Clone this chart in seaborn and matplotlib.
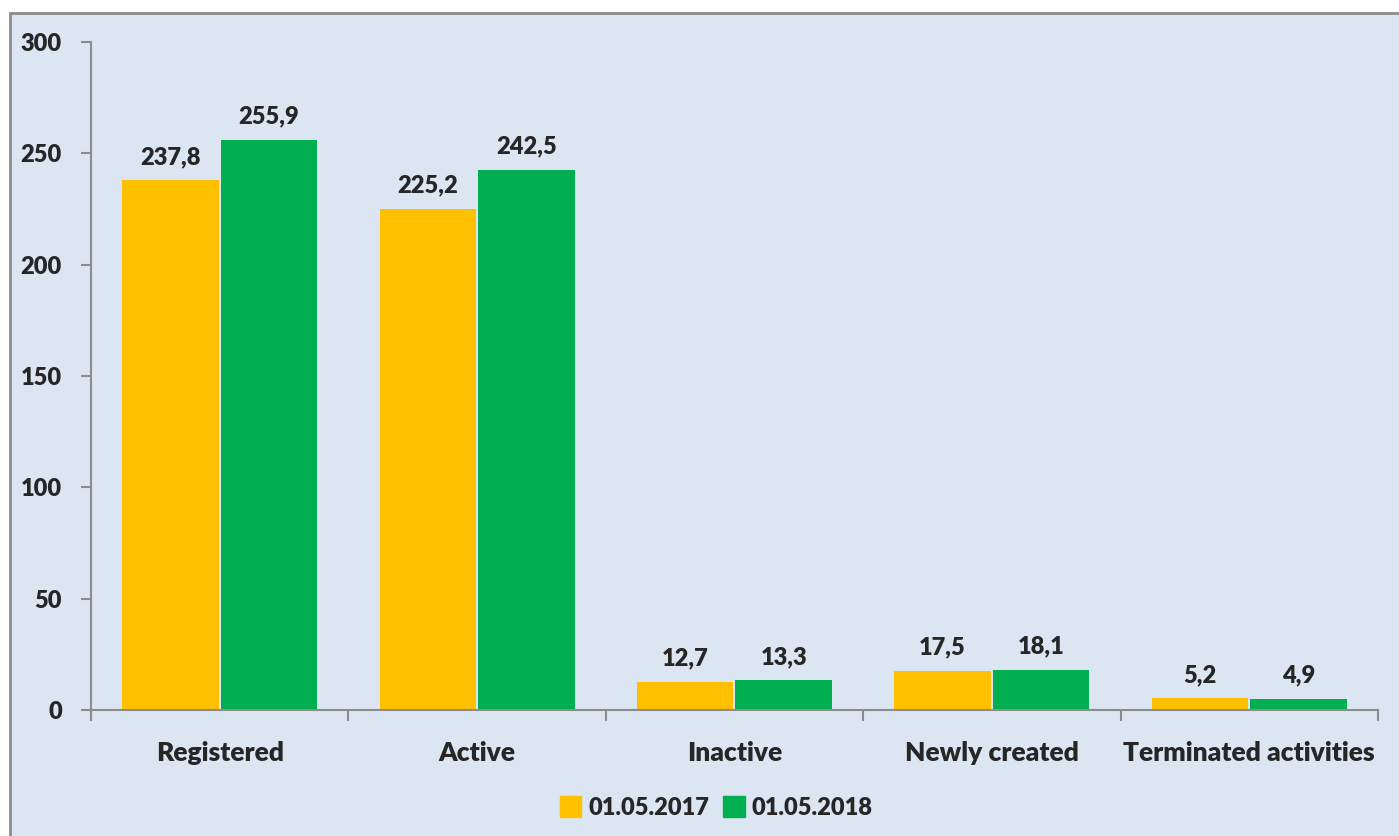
import pandas as pd
import seaborn as sns
import matplotlib.pyplot as plt
from matplotlib.patches import Rectangle

# Data
categories = ['Registered', 'Active', 'Inactive', 'Newly created', 'Terminated activities']
values_2017 = [237.8, 225.2, 12.7, 17.5, 5.2]
values_2018 = [255.9, 242.5, 13.3, 18.1, 4.9]
series = ['01.05.2017', '01.05.2018']

df = pd.DataFrame({
    'category': categories * 2,
    'value': values_2017 + values_2018,
    'date': [series[0]] * len(categories) + [series[1]] * len(categories),
})

bg = '#DCE6F2'
fw = 'heavy'
sns.set_style('white')
plt.rcParams['font.family'] = ['Lato', 'DejaVu Sans']
plt.rcParams['font.weight'] = fw

fig = plt.figure(figsize=(13.99, 8.36), dpi=100, facecolor='white')
# outer chart area with grey border (drawn behind the axes)
fig.add_artist(Rectangle((10 / 1399, -0.01), 1.0, 1 - 13 / 836 + 0.01,
                         transform=fig.transFigure, facecolor=bg,
                         edgecolor='#8c8c8c', linewidth=2, zorder=-5))

ax = fig.add_axes([0.065, 0.1507, 0.92, 0.7991])
ax.set_facecolor('none')

sns.barplot(data=df, x='category', y='value', hue='date',
            palette=['#FFC000', '#00B050'], width=0.765, gap=0.02, saturation=1,
            linewidth=0, ax=ax, legend=False)

for cont in ax.containers:
    labels = [f'{v:.1f}'.replace('.', ',') for v in cont.datavalues]
    ax.bar_label(cont, labels=labels, padding=9, fontsize=17, fontweight=fw)

ax.set_ylim(0, 300)
ax.set_xlim(-0.5, 4.5)
ax.set_yticks([0, 50, 100, 150, 200, 250, 300])
ax.set_xlabel('')
ax.set_ylabel('')

for s in ['top', 'right']:
    ax.spines[s].set_visible(False)
for s in ['left', 'bottom']:
    ax.spines[s].set_color('#8c8c8c')
    ax.spines[s].set_linewidth(1.5)

ax.tick_params(axis='y', direction='out', length=7, width=1.5, color='#8c8c8c',
               labelsize=17, pad=14, left=True)
ax.tick_params(axis='x', which='major', length=0, labelsize=19, pad=22)
ax.set_xticks([i - 0.5 for i in range(len(categories) + 1)], minor=True)
ax.tick_params(axis='x', which='minor', direction='out', length=8, width=1.5,
               color='#8c8c8c', bottom=True)
for lab in ax.get_xticklabels() + ax.get_yticklabels():
    lab.set_fontweight(fw)

handles = [Rectangle((0, 0), 1, 1, color=c) for c in ['#FFC000', '#00B050']]
fig.legend(handles, series, loc='center', bbox_to_anchor=(0.512, 0.034), ncol=2,
           frameon=False, handlelength=0.9, handleheight=1.0,
           handletextpad=0.3, columnspacing=0.6, prop={'weight': fw, 'size': 17})

fig.savefig('out.png', dpi=100, facecolor='white')
